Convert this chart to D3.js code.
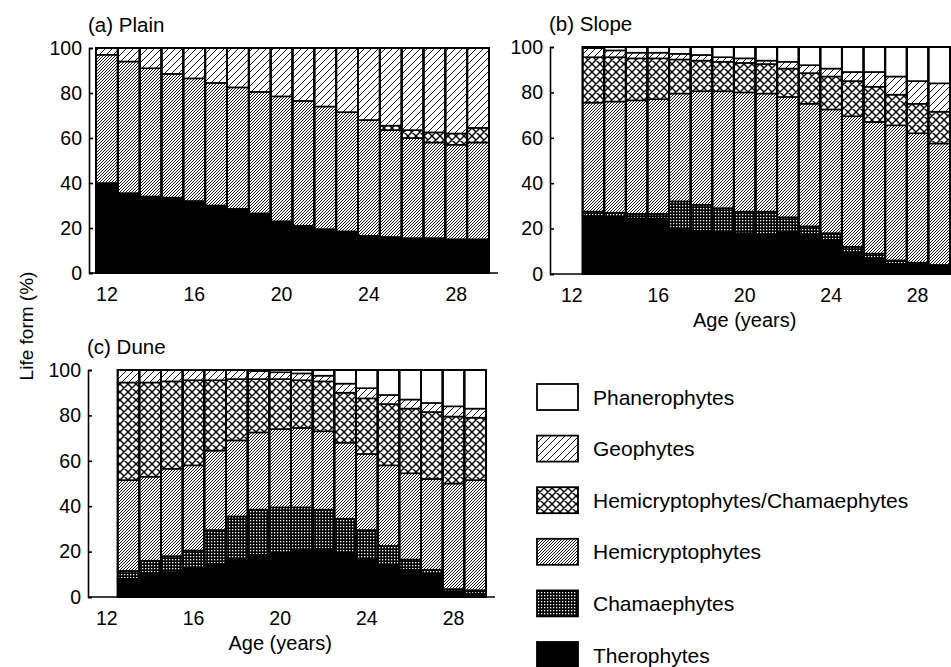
<!DOCTYPE html>
<html><head><meta charset="utf-8">
<script src="https://cdn.jsdelivr.net/npm/d3@7"></script>
<style>
body{margin:0;background:#fff}
svg{display:block}
text{font-family:"Liberation Sans", Arial, Helvetica, sans-serif; fill:#000}
</style>
</head><body>
<svg id="chart" width="951" height="667"></svg>
<script>
// ---------- DATA ----------
const series = ["Therophytes","Chamaephytes","Hemicryptophytes","Hemicryptophytes/Chamaephytes","Geophytes","Phanerophytes"];
const ageSlots = [12,13,14,15,16,17,18,19,20,21,22,23,24,25,26,27,28,29];
const xTickAges = [12,16,20,24,28];
const yTicks = [0,20,40,60,80,100];

// (a) Plain, ages 12-29
const plainAges   = [12,13,14,15,16,17,18,19,20,21,22,23,24,25,26,27,28,29];
const plainThero  = [40,35.5,34,33.5,32,30,28.5,26.5,23,21,19.5,18.5,16.5,16,15.5,15.5,15,15];
const plainChamae = [0,0,0,0,0,0,0,0,0,0,0,0,0,0,0,0,0,0];
const plainHemi   = [57,58.5,57,55,54.5,54.5,54,54,55.5,55.5,54.5,53,51.5,47.5,44.5,42.5,42,43];
const plainHemiCh = [0,0,0,0,0,0,0,0,0,0,0,0,0,2,3.5,4.5,5,6.5];
const plainGeo    = [3,6,9,11.5,13.5,15.5,17.5,19.5,21.5,23.5,26,28.5,32,34.5,36.5,37.5,38,35.5];
const plainPhan   = [0,0,0,0,0,0,0,0,0,0,0,0,0,0,0,0,0,0];

// (b) Slope, ages 13-29
const slopeAges   = [13,14,15,16,17,18,19,20,21,22,23,24,25,26,27,28,29];
const slopeThero  = [25.5,25,24.5,24.5,20,19,18.5,18,17.5,18.5,17.5,15,9.5,7,4.5,4,3.5];
const slopeChamae = [2,2,2,2,12,11.5,10.5,9.5,10,6.5,3.5,3,2.5,2,1.5,1,0.5];
const slopeHemi   = [48,49,50,50.5,47.5,50,51.5,52.5,52,53,54,54.5,57.5,58,59.5,57,53.5];
const slopeHemiCh = [20,19.5,18.5,18,15,13.5,13,13,13,12.5,13.5,14.5,15.5,15.5,13.5,13,14];
const slopeGeo    = [4,3,2.5,2.5,2.5,2.5,2,2,1.5,3,3.5,3.5,4,6.5,8,10,12.5];
const slopePhan   = [0.5,1.5,2.5,2.5,3,3.5,4.5,5,6,6.5,8,9.5,11,11,13,15,16];

// (c) Dune, ages 13-29
const duneAges    = [13,14,15,16,17,18,19,20,21,22,23,24,25,26,27,28,29];
const duneThero   = [8,10.5,11,12.5,14.5,16.5,18.5,19.5,20.5,21,19.5,16.5,14,12,10,2,1.5];
const duneChamae  = [3.5,5.5,7,8,15,19,20,20,19,17.5,15,13,8.5,4.5,2,1.5,1.5];
const duneHemi    = [40,37,38.5,37.5,35,33.5,34,34.5,35,34.5,33.5,33.5,35.5,38,40,46.5,48.5];
const duneHemiCh  = [43,41.5,38.5,37.5,31,27,23.5,22,21,22,22,24.5,27,28.5,29.5,29.5,27.5];
const duneGeo     = [5.5,5.5,5,4.5,4.5,4,3.5,3,3,2.5,4,4.5,4,4,4,4.5,4];
const dunePhan    = [0,0,0,0,0,0,0.5,1,1.5,2.5,6,8,11,13,14.5,16,17];

// ---------- DRAW ----------
const FONT = '"Liberation Sans", Arial, Helvetica, sans-serif';
const svg = d3.select("#chart");
const defs = svg.append("defs");
const patId = {
  "Chamaephytes": "p-cham",
  "Hemicryptophytes": "p-hemi",
  "Hemicryptophytes/Chamaephytes": "p-hc",
  "Geophytes": "p-geo"
};
function diagPattern(id, w, sw, both){
  const p = defs.append("pattern").attr("id", id).attr("patternUnits","userSpaceOnUse")
    .attr("width", w).attr("height", w);
  p.append("rect").attr("width", w).attr("height", w).attr("fill","#fff");
  let d = `M-1,${w+1} L${w+1},-1 M-1,1 L1,-1 M${w-1},${w+1} L${w+1},${w-1}`;
  if (both) d += ` M-1,-1 L${w+1},${w+1} M-1,${w-1} L1,${w+1} M${w-1},-1 L${w+1},1`;
  p.append("path").attr("d", d).attr("stroke","#000").attr("stroke-width", sw).attr("fill","none");
}
diagPattern("p-geo", 7, 0.9, false);
diagPattern("p-hemi", 3, 0.9, false);
diagPattern("p-hc", 8, 1.4, true);
{
  const p = defs.append("pattern").attr("id","p-cham").attr("patternUnits","userSpaceOnUse")
    .attr("width",3).attr("height",3);
  p.append("rect").attr("width",3).attr("height",3).attr("fill","#000");
  p.append("rect").attr("x",1).attr("y",1).attr("width",1.3).attr("height",1.3).attr("fill","#fff");
}
function fillOf(key){
  if (key === "Therophytes") return "#000";
  if (key === "Phanerophytes") return "#fff";
  return `url(#${patId[key]})`;
}

const panels = [
  { title:"(a) Plain", axisX:89, bandRange:[96,489], yRange:[273,48], ages:plainAges,
    vals:[plainThero,plainChamae,plainHemi,plainHemiCh,plainGeo,plainPhan], ageLabel:false },
  { title:"(b) Slope", axisX:550, bandRange:[561,950], yRange:[274,47], ages:slopeAges,
    vals:[slopeThero,slopeChamae,slopeHemi,slopeHemiCh,slopeGeo,slopePhan], ageLabel:true },
  { title:"(c) Dune", axisX:88, bandRange:[96,486], yRange:[597,370], ages:duneAges,
    vals:[duneThero,duneChamae,duneHemi,duneHemiCh,duneGeo,dunePhan], ageLabel:true }
];

panels.forEach(P => {
  const x = d3.scaleBand().domain(ageSlots).range(P.bandRange).paddingInner(0).paddingOuter(0);
  const y = d3.scaleLinear().domain([0,100]).range(P.yRange);
  const rows = P.ages.map((a,i) => {
    const r = {age:a};
    series.forEach((s,k) => r[s] = P.vals[k][i]);
    return r;
  });
  const stacked = d3.stack().keys(series)(rows);
  const g = svg.append("g");

  stacked.forEach(layer => {
    g.append("g").selectAll("rect")
      .data(layer.filter(d => d[1] - d[0] > 0))
      .join("rect")
      .attr("x", d => x(d.data.age))
      .attr("width", x.bandwidth())
      .attr("y", d => y(d[1]))
      .attr("height", d => y(d[0]) - y(d[1]))
      .attr("fill", fillOf(layer.key))
      .attr("stroke", "#000")
      .attr("stroke-width", 1.6);
  });
  // bar outlines
  g.append("g").selectAll("rect").data(rows).join("rect")
    .attr("x", d => x(d.age)).attr("width", x.bandwidth())
    .attr("y", y(100)).attr("height", y(0) - y(100))
    .attr("fill","none").attr("stroke","#000").attr("stroke-width",2);

  // zero line (x axis)
  g.append("line").attr("x1", P.axisX).attr("x2", P.bandRange[1] + 9)
    .attr("y1", y(0)).attr("y2", y(0)).attr("stroke","#000").attr("stroke-width",1.6);

  // x tick labels
  const xa = g.append("g").attr("transform", `translate(0,${y(0)})`)
    .call(d3.axisBottom(x).tickValues(xTickAges).tickSize(0).tickPadding(14));
  xa.select(".domain").remove();
  xa.selectAll("text").attr("font-size", 19.5).attr("font-family", FONT);

  // y axis
  const ya = g.append("g").attr("transform", `translate(${P.axisX},0)`)
    .call(d3.axisLeft(y).tickValues(yTicks).tickSizeInner(-4).tickSizeOuter(-4).tickPadding(7));
  ya.select(".domain").attr("stroke-width", 1.6);
  ya.selectAll(".tick line").attr("stroke-width", 1.6);
  ya.selectAll("text").attr("font-size", 19.5).attr("font-family", FONT);

  // title
  g.append("text").attr("x", P.axisX - 1).attr("y", y(100) - 16)
    .attr("font-size", 20.5).text(P.title);

  if (P.ageLabel) {
    g.append("text").attr("x", x(20) + x.bandwidth()/2).attr("y", y(0) + 53)
      .attr("text-anchor","middle").attr("font-size", 20).text("Age (years)");
  }
});

// y axis title
svg.append("text").attr("transform","translate(33,326) rotate(-90)")
  .attr("text-anchor","middle").attr("font-size",19).text("Life form (%)");

// legend
const legendKeys = [...series].reverse();
const leg = svg.append("g");
const ly = d3.scalePoint().domain(legendKeys).range([397,655]);
legendKeys.forEach(k => {
  leg.append("rect").attr("x",537).attr("y", ly(k) - 13).attr("width",41).attr("height",26)
    .attr("fill", fillOf(k)).attr("stroke","#000").attr("stroke-width",1.8);
  leg.append("text").attr("x",593).attr("y", ly(k)).attr("dy","0.36em")
    .attr("font-size",21).text(k);
});
</script>
</body></html>
